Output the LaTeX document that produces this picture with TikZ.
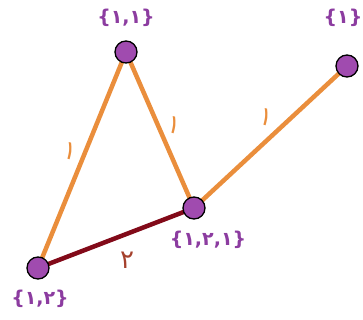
\documentclass[tikz,border=0pt]{standalone}
\usepackage{fontspec}
\newfontfamily\arfont{DejaVu Sans}
\definecolor{edgeorange}{RGB}{234,142,60}
\definecolor{edgered}{RGB}{130,10,25}
\definecolor{labpurple}{RGB}{140,60,160}
\definecolor{nodepurple}{RGB}{160,75,175}
\definecolor{twocol}{RGB}{165,65,45}
\tikzset{
  vert/.style={circle, draw=black, line width=1.3pt, fill=nodepurple, minimum size=22pt, inner sep=0pt},
  setlab/.style={text=labpurple, font=\arfont\bfseries\fontsize{19}{19}\selectfont, inner sep=0pt},
  oedge/.style={draw=edgeorange, line width=4.5pt},
  redge/.style={draw=edgered, line width=4.5pt},
  wlab/.style={font=\arfont\fontsize{26}{26}\selectfont, inner sep=0pt}
}
\begin{document}
\begin{tikzpicture}[x=1pt,y=-1pt]
\useasboundingbox (0,0) rectangle (363,320);
\coordinate (pA) at (126,52);
\coordinate (pB) at (347,66);
\coordinate (pC) at (194,208);
\coordinate (pD) at (38,268);
\draw[oedge] (pA) -- (pD);
\draw[oedge] (pA) -- (pC);
\draw[oedge] (pC) -- (pB);
\draw[redge] (pD) -- (pC);
\node[vert] (A) at (pA) {};
\node[vert] (B) at (pB) {};
\node[vert] (C) at (pC) {};
\node[vert] (D) at (pD) {};
\node[setlab] (lA) at (126,18) {\{١,١\}};
\node[setlab] (lB) at (343,18) {\{١\}};
\node[setlab] (lC) at (208,240) {\{١,٢,١\}};
\node[setlab] (lD) at (40,299) {\{١,٢\}};
\node[wlab, text=edgeorange, rotate=-15] (w1) at (70,151) {١};
\node[wlab, text=edgeorange, rotate=-15] (w2) at (174,125) {١};
\node[wlab, text=edgeorange, rotate=-15] (w3) at (266,117) {١};
\node[wlab, text=twocol] (w4) at (127,260) {٢};
\end{tikzpicture}
\end{document}
